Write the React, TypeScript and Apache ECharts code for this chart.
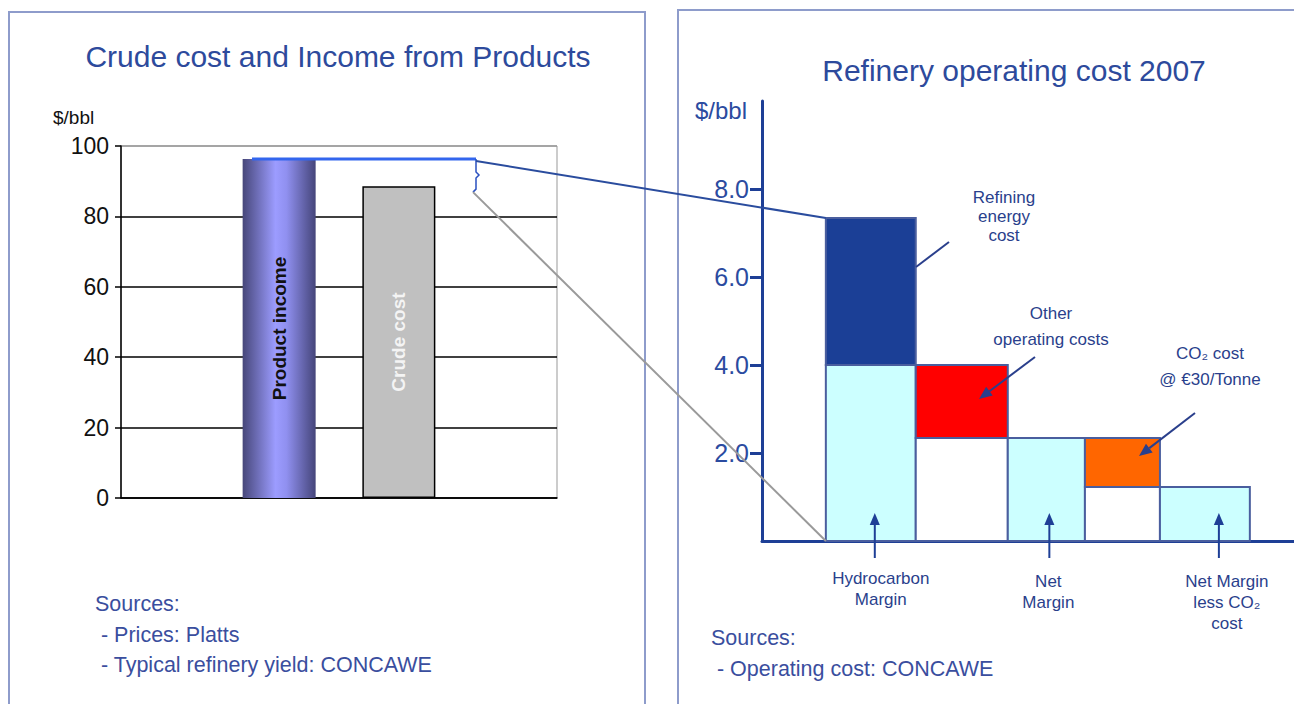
import React, { useEffect, useRef } from 'react';
import * as echarts from 'echarts';

// ---------- data ----------
const leftSeriesNames = ['Product income', 'Crude cost'];
const leftValues = [96.3, 88.6];
const leftAxisMax = 100;
const leftAxisStep = 20;

const rightColumnEdges = [1.2, 2.89, 4.62, 6.07, 7.48, 9.17];
const rightSegmentColumn = [0, 0, 1, 1, 2, 3, 3, 4];
const rightSegmentBase = [0, 4.0, 0, 2.34, 0, 0, 1.23, 0];
const rightSegmentTop = [4.0, 7.34, 2.34, 4.0, 2.34, 1.23, 2.34, 1.23];
const rightSegmentKind = ['margin', 'energy', 'blank', 'other', 'margin', 'blank', 'co2', 'margin'];
const rightTickValues = [2, 4, 6, 8];
const rightAxisMax = 10;
const rightColumnLabels = ['Hydrocarbon\nMargin', 'Net\nMargin', 'Net Margin\nless CO₂\ncost'];

const leftTitle = 'Crude cost and Income from Products';
const rightTitle = 'Refinery operating cost 2007';
const leftSources = ['Sources:', ' - Prices: Platts', ' - Typical refinery yield: CONCAWE'];
const rightSources = ['Sources:', ' - Operating cost: CONCAWE'];
const annotationEnergy = 'Refining\nenergy\ncost';
const annotationOther = 'Other\noperating costs';
const annotationCO2 = 'CO₂ cost\n@ €30/Tonne';

// ---------- styles ----------
const FONT = '"Liberation Sans", Arial, "DejaVu Sans", sans-serif';
const TITLE_BLUE = '#2D4A9C';
const AXIS_BLUE = '#1E3F96';
const TEXT_BLUE = '#2A3F8C';
const kindColor: Record<string, string> = {
  margin: '#CCFFFF',
  energy: '#1B3F96',
  other: '#FF0000',
  co2: '#FF6600',
  blank: '#FFFFFF',
};

function arrow(x1: number, y1: number, x2: number, y2: number, color: string, lw: number, head: number) {
  const dx = x2 - x1;
  const dy = y2 - y1;
  const len = Math.sqrt(dx * dx + dy * dy);
  const ux = dx / len;
  const uy = dy / len;
  const bx = x2 - ux * head;
  const by = y2 - uy * head;
  const px = -uy * head * 0.42;
  const py = ux * head * 0.42;
  return [
    { type: 'line', z: 20, shape: { x1, y1, x2: bx, y2: by }, style: { stroke: color, lineWidth: lw } },
    {
      type: 'polygon',
      z: 20,
      shape: { points: [[x2, y2], [bx + px, by + py], [bx - px, by - py]] },
      style: { fill: color },
    },
  ];
}

function txt(text: string, x: number, y: number, size: number, color: string, align = 'left', lineHeight?: number, weight = 'normal') {
  return {
    type: 'text',
    z: 20,
    x,
    y,
    style: {
      text,
      fill: color,
      fontSize: size,
      fontFamily: FONT,
      fontWeight: weight,
      align,
      verticalAlign: 'middle',
      lineHeight: lineHeight || Math.round(size * 1.2),
    },
  };
}

export default function App() {
  const ref = useRef<HTMLDivElement>(null);

  useEffect(() => {
    if (!ref.current) return;
    const chart = echarts.init(ref.current, undefined, { renderer: 'svg' });

    const rightData = rightSegmentBase.map((b, i) => [
      rightColumnEdges[rightSegmentColumn[i]],
      rightColumnEdges[rightSegmentColumn[i] + 1],
      b,
      rightSegmentTop[i],
      i,
    ]);

    const leftGridColors = ['#000', '#000', '#000', '#000', '#000', '#999'];

    chart.setOption({
      animation: false,
      backgroundColor: '#ffffff',
      textStyle: { fontFamily: FONT },
      grid: [
        { left: 121, top: 146, width: 436, height: 352, show: true, borderColor: '#999', borderWidth: 1, backgroundColor: 'transparent' },
        { left: 762, top: 101, width: 532, height: 440 },
      ],
      xAxis: [
        {
          type: 'category',
          gridIndex: 0,
          data: [''],
          axisLine: { show: true, lineStyle: { color: '#000', width: 1.5 } },
          axisTick: { show: false },
          axisLabel: { show: false },
        },
        {
          type: 'value',
          gridIndex: 1,
          min: 0,
          max: 10,
          axisLine: { show: true, onZero: false, lineStyle: { color: AXIS_BLUE, width: 3 } },
          axisTick: { show: false },
          axisLabel: { show: false },
          splitLine: { show: false },
        },
      ],
      yAxis: [
        {
          type: 'value',
          gridIndex: 0,
          min: 0,
          max: leftAxisMax,
          interval: leftAxisStep,
          axisLine: { show: true, lineStyle: { color: '#000', width: 1.5 } },
          axisTick: { show: true, length: 6, lineStyle: { color: '#000', width: 1.5 } },
          axisLabel: { color: '#111', fontSize: 23, fontFamily: FONT, margin: 12 },
          splitLine: { show: true, lineStyle: { color: leftGridColors, width: 1.5 } },
        },
        {
          type: 'value',
          gridIndex: 1,
          min: 0,
          max: rightAxisMax,
          interval: 2,
          axisLine: { show: true, lineStyle: { color: AXIS_BLUE, width: 3 } },
          axisTick: { show: true, length: 12, customValues: rightTickValues, lineStyle: { color: AXIS_BLUE, width: 3 } },
          axisLabel: {
            color: '#2B4BA0',
            fontSize: 25,
            fontFamily: FONT,
            margin: 13,
            customValues: rightTickValues,
            formatter: (v: number) => v.toFixed(1),
          },
          splitLine: { show: false },
        },
      ],
      series: [
        {
          name: leftSeriesNames[0],
          type: 'bar',
          xAxisIndex: 0,
          yAxisIndex: 0,
          data: [leftValues[0]],
          barWidth: 73,
          barGap: '64%',
          itemStyle: {
            color: new echarts.graphic.LinearGradient(0, 0, 1, 0, [
              { offset: 0, color: '#47477A' },
              { offset: 0.45, color: '#9C9CFF' },
              { offset: 0.6, color: '#9090F0' },
              { offset: 1, color: '#45457A' },
            ]),
          },
          label: {
            show: true,
            position: 'inside',
            rotate: 90,
            formatter: leftSeriesNames[0],
            color: '#111',
            fontWeight: 'bold',
            fontSize: 19,
            fontFamily: FONT,
          },
        },
        {
          name: leftSeriesNames[1],
          type: 'bar',
          xAxisIndex: 0,
          yAxisIndex: 0,
          data: [leftValues[1]],
          barWidth: 73,
          itemStyle: { color: '#C0C0C0', borderColor: '#000', borderWidth: 1.5 },
          label: {
            show: true,
            position: 'inside',
            rotate: 90,
            formatter: leftSeriesNames[1],
            color: '#F4F4F4',
            fontWeight: 'bold',
            fontSize: 19,
            fontFamily: FONT,
          },
        },
        {
          type: 'custom',
          xAxisIndex: 1,
          yAxisIndex: 1,
          data: rightData,
          encode: { x: [0, 1], y: [2, 3] },
          renderItem: (params: any, api: any) => {
            const x0 = api.value(0);
            const x1 = api.value(1);
            const lo = api.value(2);
            const hi = api.value(3);
            const idx = api.value(4);
            const p0 = api.coord([x0, hi]);
            const p1 = api.coord([x1, lo]);
            return {
              type: 'rect',
              shape: { x: p0[0], y: p0[1], width: p1[0] - p0[0], height: p1[1] - p0[1] },
              style: { fill: kindColor[rightSegmentKind[idx]], stroke: '#4A5E9E', lineWidth: 2 },
            };
          },
        },
      ],
    });

    const pInc = chart.convertToPixel({ gridIndex: 0 }, [0, leftValues[0]]) as number[];
    const pCrude = chart.convertToPixel({ gridIndex: 0 }, [0, leftValues[1]]) as number[];
    const pEnergyTop = chart.convertToPixel({ gridIndex: 1 }, [rightColumnEdges[0], rightSegmentTop[1]]) as number[];
    const pOrigin = chart.convertToPixel({ gridIndex: 1 }, [rightColumnEdges[0], 0]) as number[];

    const bx = 476;
    const lineStartX = 252;
    const yInc = pInc[1];
    const yCr = pCrude[1] + 5;

    const colCenters = [0, 2, 4].map((c) =>
      (chart.convertToPixel({ gridIndex: 1 }, [(rightColumnEdges[c] + rightColumnEdges[c + 1]) / 2, 0]) as number[])[0]
    );
    const arrowOffsets = [4, 3, 14];
    const labelOffsets = [10, 2, 22];
    const labelYs = [589, 592, 602];

    const graphics: any[] = [
      // panel borders
      { type: 'rect', z: 1, shape: { x: 9, y: 12, width: 636, height: 720 }, style: { fill: 'none', stroke: '#8E9CCB', lineWidth: 2 } },
      { type: 'rect', z: 1, shape: { x: 678, y: 10, width: 640, height: 720 }, style: { fill: 'none', stroke: '#8E9CCB', lineWidth: 2 } },
      // titles
      txt(leftTitle, 338, 56, 30, TITLE_BLUE, 'center'),
      txt(rightTitle, 1014, 70, 30, TITLE_BLUE, 'center'),
      txt('$/bbl', 53, 117, 19, '#111', 'left'),
      txt('$/bbl', 695, 110, 24, '#2B4BA0', 'left'),
      // product income level line and brace
      { type: 'line', z: 15, shape: { x1: lineStartX, y1: yInc, x2: bx, y2: yInc }, style: { stroke: '#3366EE', lineWidth: 3 } },
      {
        type: 'polyline',
        z: 15,
        shape: { points: [[bx, yInc], [bx, yInc + 13], [bx + 3, yInc + 16], [bx, yInc + 19], [bx, yCr - 2], [bx - 3, yCr + 1]] },
        style: { stroke: '#2A50C0', lineWidth: 1.5, fill: 'none' },
      },
      // connectors
      { type: 'line', z: 15, shape: { x1: bx, y1: yInc + 2, x2: pEnergyTop[0], y2: pEnergyTop[1] }, style: { stroke: '#2A4C9E', lineWidth: 2 } },
      { type: 'line', z: 15, shape: { x1: bx - 3, y1: yCr + 1, x2: pOrigin[0], y2: pOrigin[1] }, style: { stroke: '#9A9A9A', lineWidth: 2 } },
      // annotations
      txt(annotationEnergy, 1004, 216, 17, TEXT_BLUE, 'center', 19),
      { type: 'line', z: 20, shape: { x1: 916, y1: 267, x2: 949, y2: 242 }, style: { stroke: TEXT_BLUE, lineWidth: 2 } },
      txt(annotationOther, 1051, 326, 17, TEXT_BLUE, 'center', 26),
      ...arrow(1035, 357, 979, 399, TEXT_BLUE, 2, 13),
      txt(annotationCO2, 1210, 366, 17, TEXT_BLUE, 'center', 26),
      ...arrow(1195, 413, 1139, 456, TEXT_BLUE, 2, 13),
      // sources
      txt(leftSources[0], 95, 604, 21.5, '#3A4E9E', 'left'),
      txt(leftSources[1], 95, 635, 21.5, '#3A4E9E', 'left'),
      txt(leftSources[2], 95, 665, 21.5, '#3A4E9E', 'left'),
      txt(rightSources[0], 711, 638, 21.5, '#3A4E9E', 'left'),
      txt(rightSources[1], 711, 669, 21.5, '#3A4E9E', 'left'),
    ];

    colCenters.forEach((cx, i) => {
      const ax = cx + arrowOffsets[i];
      graphics.push(...arrow(ax, 558, ax, 513, AXIS_BLUE, 2, 12));
      graphics.push(txt(rightColumnLabels[i], cx + labelOffsets[i], labelYs[i], 17, TEXT_BLUE, 'center', 21));
    });

    chart.setOption({ graphic: graphics });

    return () => chart.dispose();
  }, []);

  return <div ref={ref} style={{ position: 'fixed', left: 0, top: 0, width: 1294, height: 704 }} />;
}
